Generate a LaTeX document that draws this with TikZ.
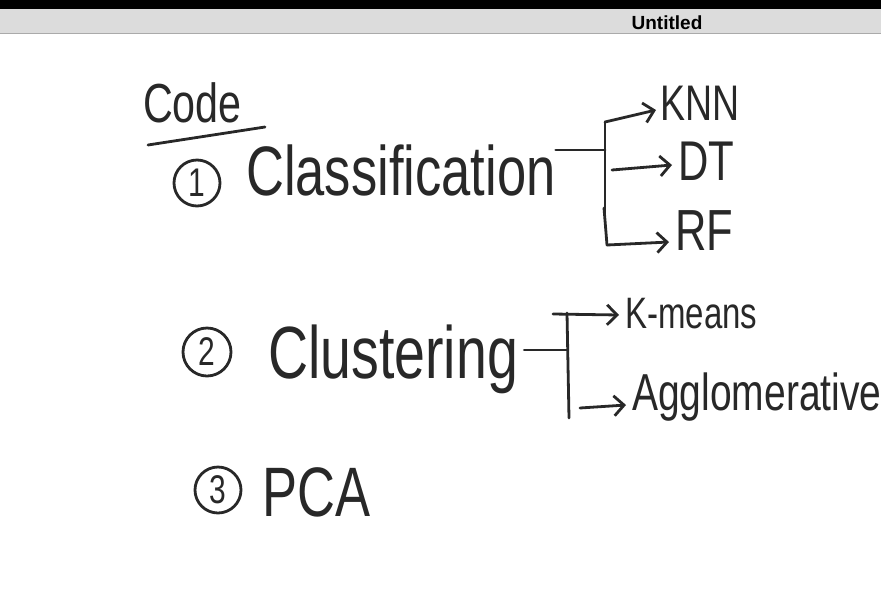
\documentclass[tikz,border=0pt]{standalone}
\usepackage{fontspec}
\setmainfont{Liberation Sans}
\newfontfamily\handfont[FakeStretch=0.75]{Liberation Sans}
\usetikzlibrary{arrows.meta,calc}
\definecolor{ink}{RGB}{40,40,40}
\definecolor{barbg}{RGB}{220,220,220}
\definecolor{barline}{RGB}{170,170,170}

\begin{document}
\begin{tikzpicture}[x=1pt, y=-1pt,
  hand/.style={font=\handfont\fontsize{#1}{#1}\selectfont, text=ink, inner sep=0pt, anchor=base west},
  stroke/.style={ink, line width=2.8pt, line cap=round, line join=round},
  arr/.style={stroke, -{Straight Barb[length=10pt,width=20pt,line width=2.8pt]}},
  numcirc/.style={circle, draw=ink, line width=2.8pt, minimum size=46pt, inner sep=0pt,
                  font=\handfont\fontsize{40}{40}\selectfont, text=ink}]

\useasboundingbox (0,0) rectangle (881,598);
\fill[white] (0,0) rectangle (881,598);

% ---- window title bar ----
\fill[black] (0,0) rectangle (881,9);
\fill[barbg] (0,9) rectangle (881,33);
\draw[barline] (0,33) -- (881,33);
\node[font=\bfseries\fontsize{19}{19}\selectfont] (title) at (667,23) {Untitled};

% ---- heading ----
\node[hand=55] (code) at (143,122) {Code};
\draw[stroke] (148,145) -- (265,127);

% ---- (1) classification ----
\node[numcirc] (n1) at (197,183) {1};
\node[hand=70] (cls) at (246,195) {Classification};
\coordinate (b1) at (605,150);
\coordinate (b1top) at (605,122);
\coordinate (b1bot) at (607,245);
\draw[stroke] (cls.east |- b1) -- (b1);
\draw[stroke] (b1top) -- (605,215);
\draw[stroke] (604,208) -- (b1bot);

\node[hand=50] (knn) at (660,120) {KNN};
\node[hand=56] (dt) at (678,180) {DT};
\node[hand=58] (rf) at (675,250) {RF};

\draw[arr] (b1top) -- ([xshift=-4pt]knn.west |- 0,110);
\draw[arr] (612,170) -- ([xshift=-6pt]dt.west |- 0,165);
\draw[arr] (b1bot) -- ([xshift=-6pt]rf.west |- 0,242);

% ---- (2) clustering ----
\node[numcirc, minimum size=48pt] (n2) at (207,352) {2};
\node[hand=74] (clu) at (268,378) {Clustering};
\coordinate (b2) at (567,350);
\coordinate (b2top) at (553,314);
\coordinate (b2bot) at (569,418);
\draw[stroke] ([xshift=6pt]clu.east |- b2) -- (b2);
\draw[stroke] (567,313) -- (b2bot);

\node[hand=44] (kmeans) at (625,328) {K-means};
\node[hand=52] (aggl) at (632,410) {Agglomerative};

\draw[arr] (b2top) -- ([xshift=-6pt]kmeans.west |- 0,315);
\draw[arr] (580,408) -- ([xshift=-6pt]aggl.west |- 0,405);

% ---- (3) PCA ----
\node[numcirc] (n3) at (218,490) {3};
\node[hand=70] (pca) at (262,516) {PCA};

\end{tikzpicture}
\end{document}
